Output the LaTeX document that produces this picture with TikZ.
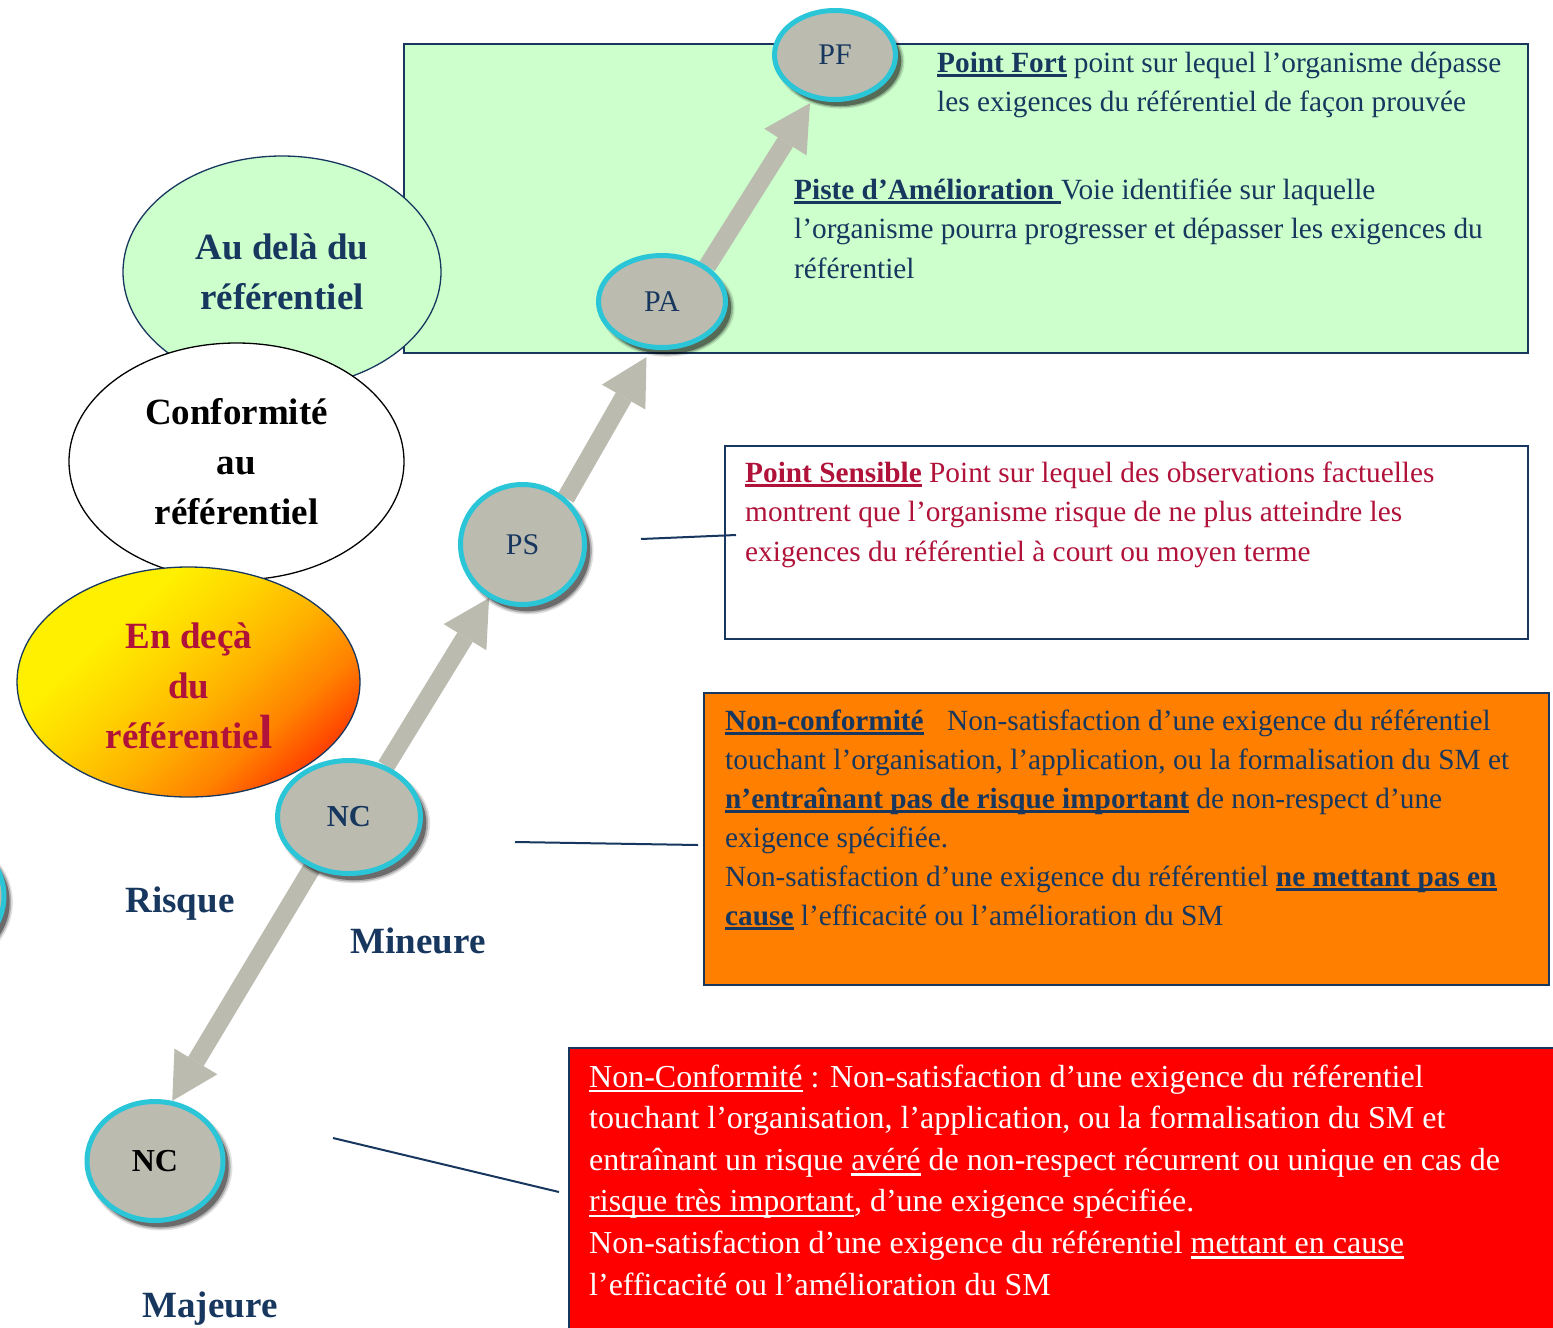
\documentclass[tikz,border=0pt]{standalone}
\usepackage{fontspec}
\setmainfont{Liberation Serif}
\usetikzlibrary{shapes.geometric,arrows.meta,shadows}

\definecolor{navy}{HTML}{17375E}
\definecolor{crim}{HTML}{B0123A}
\definecolor{cyanring}{HTML}{2BC5D8}
\definecolor{stone}{HTML}{BBBBB0}
\definecolor{mint}{HTML}{CCFFCC}
\definecolor{boxorange}{HTML}{FF8000}
\definecolor{boxred}{HTML}{FF0000}
\definecolor{sunyellow}{HTML}{FFF000}
\definecolor{sunlight}{HTML}{FFD600}
\definecolor{sungold}{HTML}{FFB200}
\definecolor{sunorange}{HTML}{FF8200}
\definecolor{sunred}{HTML}{FF3A00}

% yellow to red gradient of the lower zone
\pgfdeclareverticalshading{sunset}{100bp}{color(0bp)=(sunred); color(24bp)=(sunred);
  color(34bp)=(sunorange); color(45bp)=(sungold); color(56bp)=(sunlight);
  color(66bp)=(sunyellow); color(100bp)=(sunyellow)}

% underline at a fixed depth below the baseline, in a given colour
\newcommand\ulx[2]{\leavevmode\setbox0=\hbox{#2}\rlap{\textcolor{#1}{\rule[-0.17em]{\wd0}{0.085em}}}\box0\relax}

\pgfdeclarelayer{back}
\pgfdeclarelayer{mid}
\pgfsetlayers{back,mid,main}

\begin{document}
\begin{tikzpicture}[x=1pt, y=-1pt,
  softshadow/.style={
    general shadow={fill=black, opacity=0.12, shadow xshift=5pt, shadow yshift=-6pt, shadow scale=1.06},
    general shadow={fill=black, opacity=0.22, shadow xshift=5pt, shadow yshift=-6pt, shadow scale=1.035},
    general shadow={fill=black, opacity=0.38, shadow xshift=5pt, shadow yshift=-6pt, shadow scale=1.01}},
  token/.style={ellipse, draw=cyanring, line width=5pt, fill=stone, text=navy,
    inner sep=0pt, font=\fontsize{30}{30}\selectfont, softshadow},
  zone/.style={ellipse, line width=1.3pt, inner sep=0pt, align=center,
    font=\fontsize{37}{50}\selectfont\bfseries},
  bigarrow/.style={draw=stone, line width=18pt,
    -{Triangle[length=46pt, width=50pt, line width=0pt]}},
  link/.style={draw=navy, line width=2pt},
  panel/.style={anchor=north west, inner sep=0pt, line width=2pt, draw=navy},
  tag/.style={font=\fontsize{37}{37}\selectfont\bfseries, text=navy, anchor=base},
  copy/.style={anchor=base west, inner sep=0pt}
]
\useasboundingbox (0,0) rectangle (1553,1328);

% ---- background panels and the three zones
\begin{pgfonlayer}{back}
  \fill[white] (0,0) rectangle (1553,1328);
  \node[panel, fill=mint, minimum width=1124pt, minimum height=309pt] (gbox) at (403,43) {};
  \node[panel, fill=white, minimum width=803pt, minimum height=193pt] (psbox) at (724,445) {};
  \node[panel, fill=boxorange, minimum width=845pt, minimum height=292pt] (obox) at (703,692) {};
  \node[panel, fill=boxred, minimum width=1000pt, minimum height=300pt] (rbox) at (568,1047) {};
  \node[zone, draw=navy, fill=mint, text=navy, minimum width=318pt, minimum height=232pt]
    (beyond) at (282,272) {Au delà du\\référentiel};
  \node[zone, draw=black, fill=white, text=black, minimum width=335pt, minimum height=237pt]
    (conform) at (236.5,461.5) {Conformité\\au\\référentiel};
  \node[zone, draw=navy, shading=sunset, shading angle=42, minimum width=343pt, minimum height=230pt]
    (below) at (188.5,682) {};
  \node[zone, text=crim] (belowtext) at (189,686)
    {En deçà\\du\\référentie{\fontsize{48}{50}\selectfont l}};
\end{pgfonlayer}

% ---- level tokens
\node[token, minimum width=121pt, minimum height=89pt] (pf) at (835,55) {PF};
\node[token, minimum width=127pt, minimum height=92pt] (pa) at (662,301.5) {PA};
\node[token, minimum width=124pt, minimum height=120pt] (ps) at (522.5,544.5) {PS};
\node[token, minimum width=143pt, minimum height=113pt,
  font=\fontsize{30.5}{30.5}\selectfont\bfseries] (ncm) at (349,817) {NC};
\node[token, minimum width=136pt, minimum height=119pt, text=black,
  font=\fontsize{32}{32}\selectfont\bfseries] (ncb) at (155,1161) {NC};
\node[token, minimum width=118pt, minimum height=118pt] (offedge) at (-55,896) {};

% ---- progression arrows
\begin{pgfonlayer}{mid}
  \draw[bigarrow] (ncm.54) -- (ps.-122);
  \draw[bigarrow, shorten >=9pt] (ps.47) -- (pa.-103);
  \draw[bigarrow, shorten >=5pt] (pa.38) -- (pf.-117);
  \draw[bigarrow] (ncm.-126) -- (ncb.74);
\end{pgfonlayer}

% ---- leader lines to the definitions
\coordinate (psa) at (641,539);  \coordinate (psb) at (736,535);
\coordinate (nca) at (515,842);  \coordinate (ncz) at (698,845);
\coordinate (nja) at (333,1138); \coordinate (njz) at (559,1192);
\draw[link] (psa) -- (psb);
\draw[link] (nca) -- (ncz);
\draw[link] (nja) -- (njz);

% ---- side labels
\node[tag] (risk) at (180,912) {Risque};
\node[tag] (minor) at (418,953) {Mineure};
\node[tag] (major) at (210,1317) {Majeure};

% ---- definitions
\node[copy, text=navy] (pftext) at (937,72) {\parbox[t]{600pt}{\fontsize{29.3}{39}\selectfont
  \ulx{navy}{\textbf{Point Fort}} point sur lequel l’organisme dépasse\\
  les exigences du référentiel de façon prouvée}};

\node[copy, text=navy] (patext) at (794,199) {\parbox[t]{720pt}{\fontsize{29.3}{39.5}\selectfont
  \ulx{navy}{\textbf{Piste d’Amélioration }}Voie identifiée sur laquelle\\
  l’organisme pourra progresser et dépasser les exigences du\\
  référentiel}};

\node[copy, text=crim] (pstext) at (745,482) {\parbox[t]{760pt}{\fontsize{29.3}{39.5}\selectfont
  \ulx{crim}{\textbf{Point Sensible}} Point sur lequel des observations factuelles\\
  montrent que l’organisme risque de ne plus atteindre les\\
  exigences du référentiel à court ou moyen terme}};

\node[copy, text=navy] (ncmtext) at (725,730) {\parbox[t]{800pt}{\fontsize{29.3}{39}\selectfont
  \ulx{navy}{\textbf{Non-conformité}}\hspace{0.55em} Non-satisfaction d’une exigence du référentiel\\
  touchant l’organisation, l’application, ou la formalisation du SM et\\
  \ulx{navy}{\textbf{n’entraînant pas de risque important}} de non-respect d’une\\
  exigence spécifiée.\\
  Non-satisfaction d’une exigence du référentiel \ulx{navy}{\textbf{ne mettant pas en}}\\
  \ulx{navy}{\textbf{cause}} l’efficacité ou l’amélioration du SM}};

\node[copy, text=white] (ncbtext) at (589,1087) {\parbox[t]{950pt}{\fontsize{32}{41.6}\selectfont
  \ulx{white}{Non-Conformité} : Non-satisfaction d’une exigence du référentiel\\
  touchant l’organisation, l’application, ou la formalisation du SM et\\
  entraînant un risque \ulx{white}{avéré} de non-respect récurrent ou unique en cas de\\
  \ulx{white}{risque très important}, d’une exigence spécifiée.\\
  Non-satisfaction d’une exigence du référentiel \ulx{white}{mettant en cause}\\
  l’efficacité ou l’amélioration du SM}};
\end{tikzpicture}
\end{document}
